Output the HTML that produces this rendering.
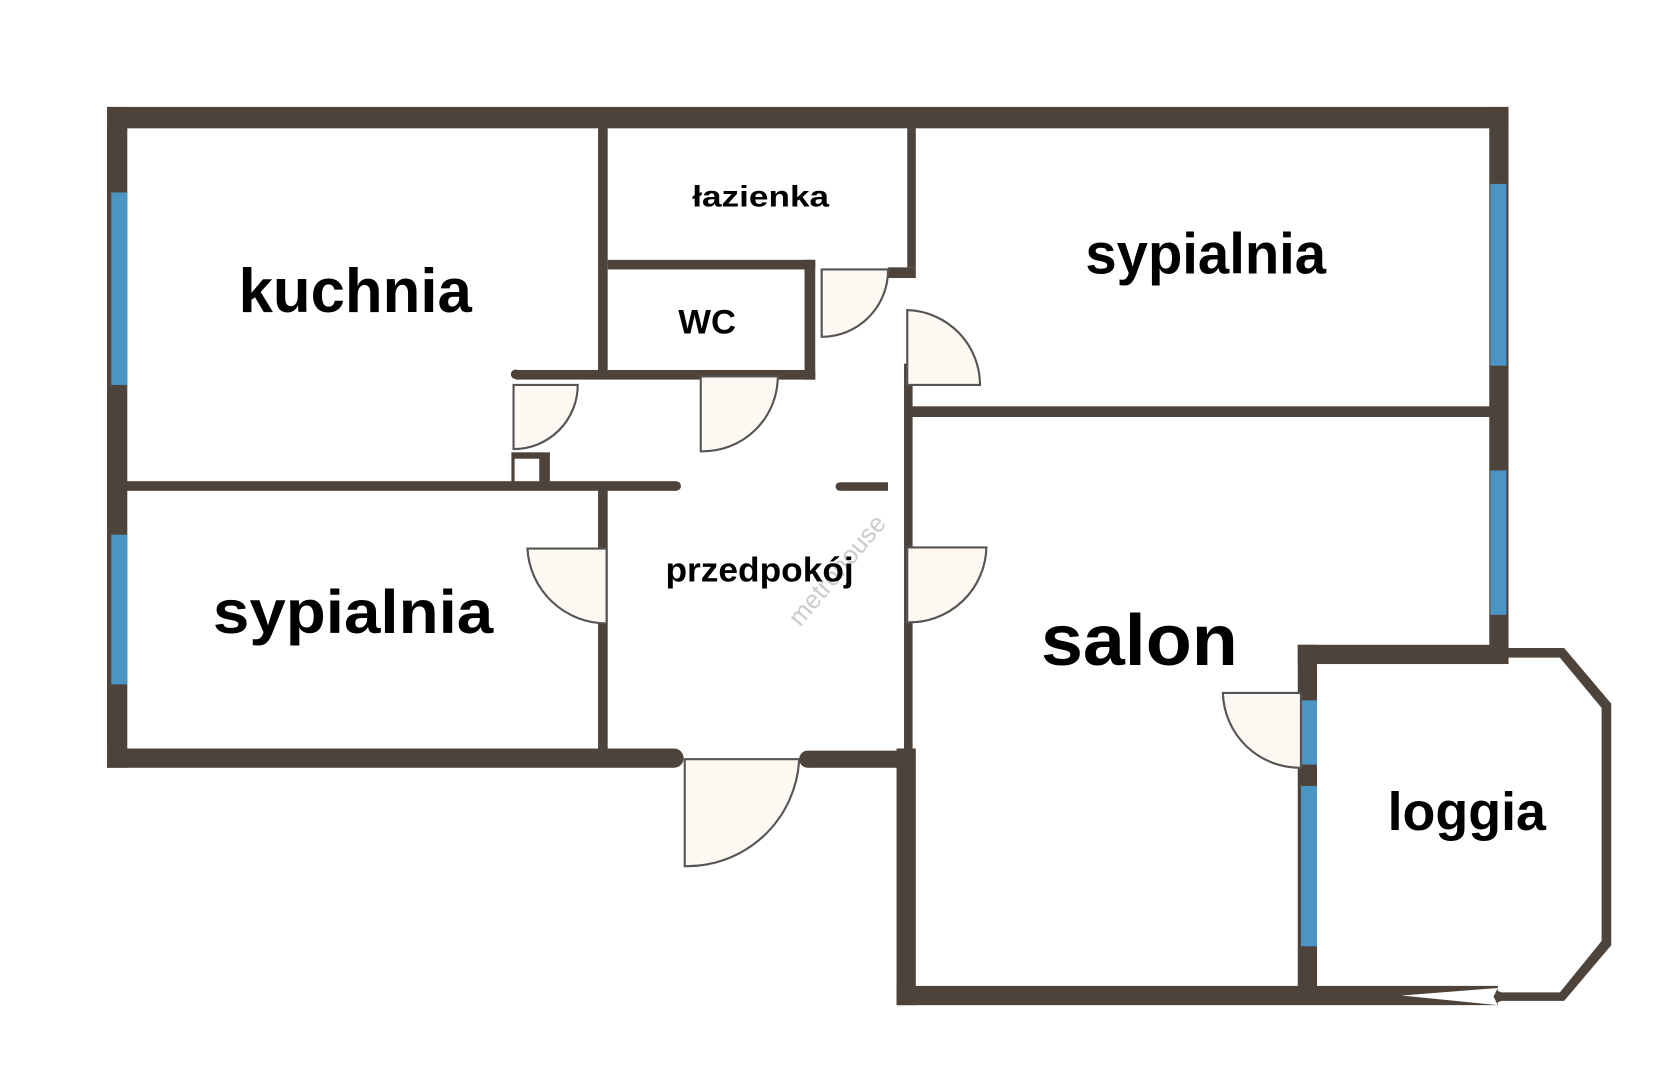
<!DOCTYPE html>
<html><head><meta charset="utf-8"><style>
html,body{margin:0;padding:0;background:#fff;}
svg{display:block}
text{font-family:"Liberation Sans",Arial,sans-serif;font-weight:bold;fill:#000;text-anchor:middle}
</style></head><body>
<svg width="1669" height="1080" viewBox="0 0 1560 1010" preserveAspectRatio="none" xmlns="http://www.w3.org/2000/svg">
<g fill="#4e433b">
<rect x="100" y="100" width="1310" height="20"/>
<rect x="100" y="100" width="19" height="618"/>
<rect x="100" y="700" width="530" height="18"/>
<circle cx="630" cy="709" r="9"/>
<rect x="755" y="702" width="100" height="16"/>
<circle cx="755" cy="710" r="8"/>
<rect x="1392" y="100" width="18" height="520"/>
<rect x="838" y="700" width="18" height="240"/>
<rect x="838" y="922" width="562" height="18"/>
<rect x="559" y="118" width="9" height="232"/>
<rect x="559" y="455" width="9" height="248"/>
<rect x="568" y="243" width="194" height="9"/>
<rect x="752" y="243" width="10" height="112"/>
<rect x="482" y="346" width="280" height="9"/>
<circle cx="482" cy="350" r="4.5"/>
<rect x="848" y="118" width="8" height="132"/>
<rect x="830" y="250" width="26" height="10"/>
<rect x="845" y="340" width="8" height="362"/>
<rect x="852" y="380" width="542" height="10"/>
<rect x="118" y="450" width="514" height="9"/>
<circle cx="632" cy="454.5" r="4.5"/>
<rect x="785" y="451" width="45" height="8"/>
<circle cx="785" cy="455" r="4"/>
<rect x="478" y="423" width="36" height="30"/>
<rect x="1213" y="603" width="197" height="18"/>
<rect x="1213" y="603" width="18" height="322"/>
<polygon points="1410,606 1462,606 1506,658 1506,884 1462,936 1400,936 1400,928 1458,928 1497,880 1497,662 1458,615 1410,615"/>
<circle cx="1400" cy="932" r="5"/>
</g>
<polygon points="1310,931 1400,924 1396,932 1400,940" fill="#fff"/>
<rect x="481" y="429" width="23" height="21" fill="#fff"/>
<g fill="#4b95c4">
<rect x="104" y="180" width="15" height="180"/>
<rect x="104" y="500" width="15" height="140"/>
<rect x="1393" y="172" width="15" height="170"/>
<rect x="1393" y="440" width="15" height="135"/>
<rect x="1216" y="655" width="15" height="60"/>
<rect x="1216" y="735" width="15" height="150"/>
</g>
<g fill="#fdf8f1" stroke="#555" stroke-width="2">
<path d="M480,360 L480,420 A60,60 0 0 0 540,360 Z"/>
<path d="M655,352 L655,422 A70,70 0 0 0 727,352 Z"/>
<path d="M768,252 L768,315 A62,62 0 0 0 830,252 Z"/>
<path d="M848,360 L848,290 A70,70 0 0 1 916,360 Z"/>
<path d="M567,513 L493,513 A74,74 0 0 0 567,583 Z"/>
<path d="M848,512 L922,512 A72,72 0 0 1 848,582 Z"/>
<path d="M640,710 L640,810 A105,105 0 0 0 747,710 Z"/>
<path d="M1216,648 L1143,648 A72,72 0 0 0 1216,718 Z"/>
</g>
<text x="752" y="520" transform="rotate(-50 790 490)" style="font-weight:normal;fill:#ccc;font-size:24px">metrohouse</text>
<text x="332" y="292" font-size="58" textLength="218" lengthAdjust="spacingAndGlyphs">kuchnia</text>
<text x="711" y="193" font-size="28" textLength="128" lengthAdjust="spacingAndGlyphs">łazienka</text>
<text x="661" y="312" font-size="32" textLength="54" lengthAdjust="spacingAndGlyphs">WC</text>
<text x="1127" y="256" font-size="54" textLength="225" lengthAdjust="spacingAndGlyphs">sypialnia</text>
<text x="330" y="592" font-size="57" textLength="262" lengthAdjust="spacingAndGlyphs">sypialnia</text>
<text x="710" y="544" font-size="32" textLength="176" lengthAdjust="spacingAndGlyphs">przedpokój</text>
<text x="1065" y="622" font-size="68" textLength="184" lengthAdjust="spacingAndGlyphs">salon</text>
<text x="1371" y="776" font-size="50" textLength="148" lengthAdjust="spacingAndGlyphs">loggia</text>
</svg>
</body></html>
